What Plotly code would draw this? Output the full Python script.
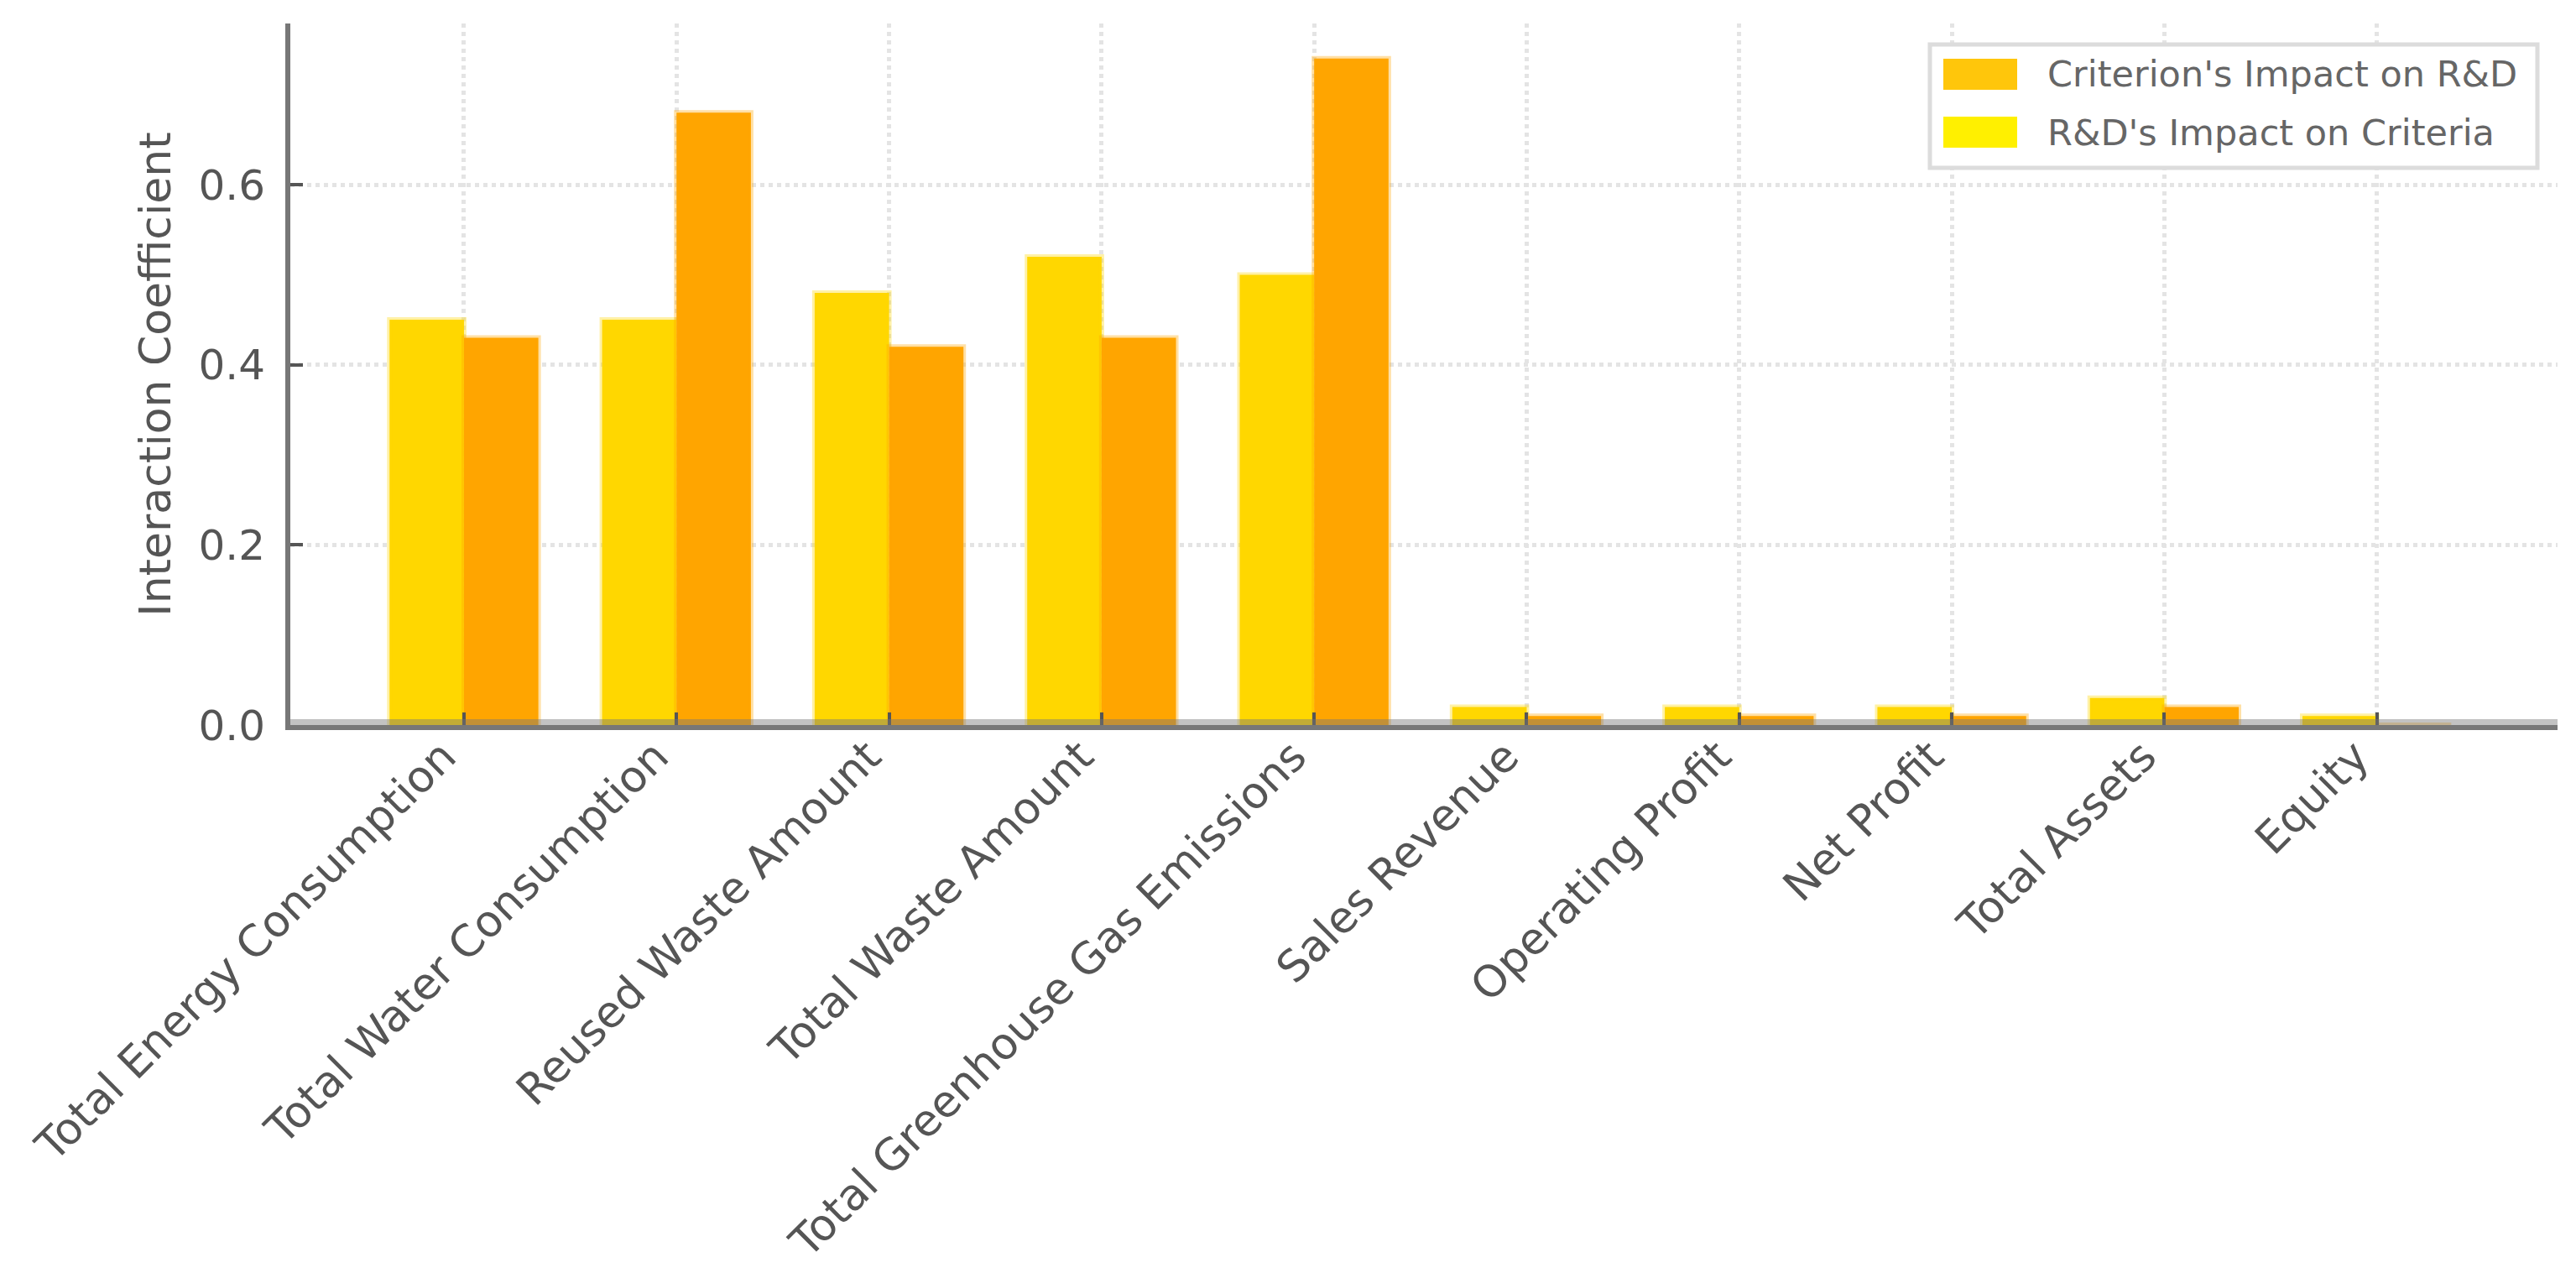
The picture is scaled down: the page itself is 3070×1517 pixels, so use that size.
import plotly.graph_objects as go

categories = ["Total Energy Consumption", "Total Water Consumption", "Reused Waste Amount",
              "Total Waste Amount", "Total Greenhouse Gas Emissions", "Sales Revenue",
              "Operating Profit", "Net Profit", "Total Assets", "Equity"]
rd_on_criteria = [0.45, 0.45, 0.48, 0.52, 0.50, 0.02, 0.02, 0.02, 0.03, 0.01]
criterion_on_rd = [0.43, 0.68, 0.42, 0.43, 0.74, 0.01, 0.01, 0.01, 0.02, 0.0]
legend_names = ["Criterion's Impact on R&D", "R&D's Impact on Criteria"]
y_ticks = [0.0, 0.2, 0.4, 0.6]

W, H = 3070, 1517
L, R, T, B = 338, 30, 20, 661
FONT = "DejaVu Sans"
TXT = "#555555"

fig = go.Figure()
fig.add_trace(go.Bar(x=categories, y=rd_on_criteria, name=legend_names[1], showlegend=False,
                     marker=dict(color="#FFD700", line=dict(color="rgba(255,215,0,0.35)", width=6))))
fig.add_trace(go.Bar(x=categories, y=criterion_on_rd, name=legend_names[0], showlegend=False,
                     marker=dict(color="#FFA500", line=dict(color="rgba(255,165,0,0.35)", width=6))))

pw, ph = W - L - R, H - T - B
def px(x):
    return (x - L) / pw
def py(y):
    return (H - B - y) / ph

shapes = [
    # light band over the zero line
    dict(type="rect", xref="paper", yref="y", x0=0, x1=1, ysizemode="pixel", yanchor=0,
         y0=0, y1=7, fillcolor="rgba(120,120,120,0.45)", line=dict(width=0), layer="above"),
    # legend box
    dict(type="rect", xref="paper", yref="paper", x0=px(2292), x1=px(3016), y0=py(192), y1=py(45),
         fillcolor="white", line=dict(color="#dcdcdc", width=5), layer="above"),
    dict(type="rect", xref="paper", yref="paper", x0=px(2308), x1=px(2396), y0=py(99), y1=py(62),
         fillcolor="#FFC60B", line=dict(width=0), layer="above"),
    dict(type="rect", xref="paper", yref="paper", x0=px(2308), x1=px(2396), y0=py(168), y1=py(131),
         fillcolor="#FFF000", line=dict(width=0), layer="above"),
]
annotations = [
    dict(xref="paper", yref="paper", x=px(2430), y=py(80), text=legend_names[0], showarrow=False,
         xanchor="left", yanchor="middle", font=dict(family=FONT, size=43, color="#666666")),
    dict(xref="paper", yref="paper", x=px(2430), y=py(150), text=legend_names[1], showarrow=False,
         xanchor="left", yanchor="middle", font=dict(family=FONT, size=43, color="#666666")),
]

fig.update_layout(
    width=W, height=H,
    margin=dict(l=L, r=R, t=T, b=B, autoexpand=False),
    paper_bgcolor="white", plot_bgcolor="white",
    barmode="group", bargap=0.3, bargroupgap=0,
    font=dict(family=FONT, color=TXT),
    shapes=shapes, annotations=annotations,
    showlegend=False,
)
fig.update_xaxes(
    range=[-0.817, 9.85], tickangle=-45, tickfont=dict(size=52, color=TXT),
    showgrid=True, gridcolor="#e4e4e4", griddash="dot", gridwidth=5,
    showline=True, linecolor="#777777", linewidth=6,
    ticks="inside", ticklen=15, tickwidth=4, tickcolor="#555555",
    zeroline=False, ticklabelstandoff=-20, ticklabelshift=-25,
)
fig.update_yaxes(
    range=[0, 0.779], tickvals=y_ticks, ticktext=[f"{v:.1f}" for v in y_ticks],
    tickfont=dict(size=50, color=TXT),
    title=dict(text="Interaction Coefficient", font=dict(size=52, color=TXT), standoff=18),
    showgrid=True, gridcolor="#e4e4e4", griddash="dot", gridwidth=5,
    showline=True, linecolor="#777777", linewidth=6,
    ticks="inside", ticklen=15, tickwidth=4, tickcolor="#555555",
    zeroline=False, ticklabelstandoff=14,
)

fig.write_html("out.html")
